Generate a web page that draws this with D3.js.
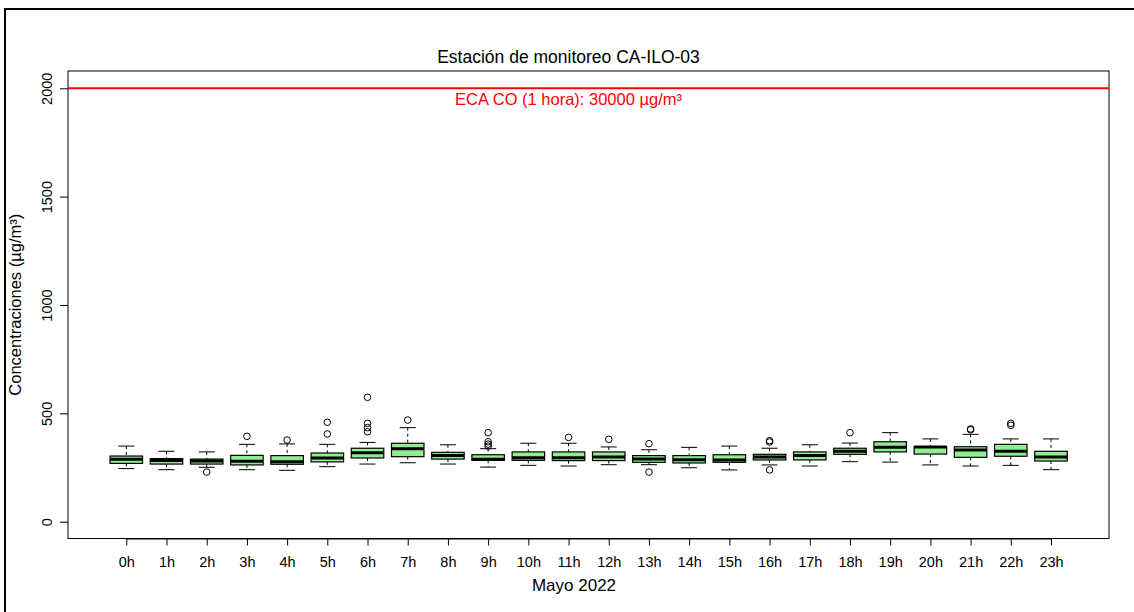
<!DOCTYPE html>
<html>
<head>
<meta charset="utf-8">
<script src="https://cdn.jsdelivr.net/npm/d3@7"></script>
<style>
  html, body { margin: 0; padding: 0; background: #fff; }
  svg { display: block; font-family: "Liberation Sans", Arial, sans-serif; }
</style>
</head>
<body>
<svg id="chart" width="1134" height="612"></svg>
<script>
// Hourly CO concentrations, station CA-ILO-03, May 2022 (µg/m³)
const hours = ["0h","1h","2h","3h","4h","5h","6h","7h","8h","9h","10h","11h",
               "12h","13h","14h","15h","16h","17h","18h","19h","20h","21h","22h","23h"];
const whiskerLow  = [245,240,251,240,237,254,266,272,266,252,260,257,263,263,249,239,262,257,277,275,262,257,260,240];
const q1          = [269,266,266,262,265,276,294,300,289,283,283,282,282,274,271,274,285,285,311,322,312,297,302,280];
const medians     = [288,282,280,279,277,294,318,337,305,288,295,295,299,289,286,285,299,305,325,343,345,331,325,299];
const q3          = [303,291,289,306,305,317,339,362,320,309,322,322,322,305,305,309,311,322,339,369,346,346,357,325];
const whiskerHigh = [349,325,322,357,359,357,366,434,355,337,362,362,345,332,343,349,339,355,363,411,382,403,382,382];
const outliers    = [[],[],[229],[394],[377],[459,405],[574,454,434,415],[469],[],[411,369,358,349],[],[389],
                     [380],[360,229],[],[],[374,368,239],[],[411],[],[],[428,424],[454,445],[]];
const yTicks = [0, 500, 1000, 1500, 2000];
const ecaLimit = 2000;
const ecaLabel = "ECA CO (1 hora): 30000 µg/m³";

const svg = d3.select("#chart");
const plot = { left: 68, right: 1109, top: 71, bottom: 538.5 };

// Outer frame
svg.append("path")
  .attr("d", `M5,612 L5,9 L1134,9`)
  .attr("fill", "none").attr("stroke", "#000").attr("stroke-width", 2);

const x = d3.scalePoint().domain(hours)
  .range([126.3, 1051]);
const y = d3.scaleLinear().domain([0, 2000]).range([521.7, 88.3]);

const boxW = 32.5, capW = 16;

// Plot box
svg.append("rect")
  .attr("x", plot.left).attr("y", plot.top)
  .attr("width", plot.right - plot.left).attr("height", plot.bottom - plot.top)
  .attr("fill", "none").attr("stroke", "#000").attr("stroke-width", 1);

// Y axis
const yAxis = svg.append("g").attr("transform", `translate(${plot.left},0)`)
  .call(d3.axisLeft(y).tickValues(yTicks).tickSize(8).tickPadding(0).tickFormat(d3.format("d")));
yAxis.select(".domain").remove();
yAxis.selectAll(".tick line").attr("stroke", "#000");
yAxis.selectAll(".tick text")
  .attr("transform", "rotate(-90)")
  .attr("x", 0).attr("y", -16)
  .attr("dy", "0")
  .attr("text-anchor", "middle")
  .attr("font-size", 14.5).attr("fill", "#000");

// X axis
const xAxis = svg.append("g").attr("transform", `translate(0,${plot.bottom})`)
  .call(d3.axisBottom(x).tickSize(7).tickPadding(0));
xAxis.select(".domain").attr("d", `M${x(hours[0])},0.5H${x(hours[hours.length-1])}`).attr("stroke", "#000");
xAxis.selectAll(".tick line").attr("stroke", "#000");
xAxis.selectAll(".tick text").attr("y", 28.5).attr("dy", 0)
  .attr("font-size", 14.5).attr("fill", "#000");

// ECA reference line, label centred over the 11h position
svg.append("line")
  .attr("x1", plot.left).attr("x2", plot.right)
  .attr("y1", y(ecaLimit)).attr("y2", y(ecaLimit))
  .attr("stroke", "#ff0000").attr("stroke-width", 2);
svg.append("text")
  .attr("x", x("11h")).attr("y", 105)
  .attr("text-anchor", "middle").attr("font-size", 16.5).attr("fill", "#ff0000")
  .text(ecaLabel);

// Boxplots
const g = svg.append("g");
hours.forEach((h, i) => {
  const cx = x(h);
  const bg = g.append("g");
  // dashed whiskers
  bg.append("line").attr("x1", cx).attr("x2", cx)
    .attr("y1", y(whiskerHigh[i])).attr("y2", y(q3[i]))
    .attr("stroke", "#000").attr("stroke-dasharray", "3,3");
  bg.append("line").attr("x1", cx).attr("x2", cx)
    .attr("y1", y(q1[i])).attr("y2", y(whiskerLow[i]))
    .attr("stroke", "#000").attr("stroke-dasharray", "3,3");
  // staples
  [whiskerHigh[i], whiskerLow[i]].forEach(v => {
    bg.append("line").attr("x1", cx - capW / 2).attr("x2", cx + capW / 2)
      .attr("y1", y(v)).attr("y2", y(v)).attr("stroke", "#000");
  });
  // box
  bg.append("rect")
    .attr("x", cx - boxW / 2).attr("y", y(q3[i]))
    .attr("width", boxW).attr("height", y(q1[i]) - y(q3[i]))
    .attr("fill", "#90ee90").attr("stroke", "#000").attr("stroke-width", 1.2);
  // median
  bg.append("line").attr("x1", cx - boxW / 2).attr("x2", cx + boxW / 2)
    .attr("y1", y(medians[i])).attr("y2", y(medians[i]))
    .attr("stroke", "#000").attr("stroke-width", 3);
  // outliers
  outliers[i].forEach(v => {
    bg.append("circle").attr("cx", cx).attr("cy", y(v)).attr("r", 3.3)
      .attr("fill", "none").attr("stroke", "#000").attr("stroke-width", 1);
  });
});

// Titles
svg.append("text")
  .attr("x", 568.5).attr("y", 63)
  .attr("text-anchor", "middle").attr("font-size", 17.5).attr("fill", "#000")
  .text("Estación de monitoreo CA-ILO-03");
svg.append("text")
  .attr("x", 574).attr("y", 591)
  .attr("text-anchor", "middle").attr("font-size", 17).attr("fill", "#000")
  .text("Mayo 2022");
svg.append("text")
  .attr("transform", `translate(21,${(plot.top + plot.bottom) / 2}) rotate(-90)`)
  .attr("text-anchor", "middle").attr("font-size", 16.5).attr("fill", "#000")
  .text("Concentraciones (µg/m³)");
</script>
</body>
</html>
